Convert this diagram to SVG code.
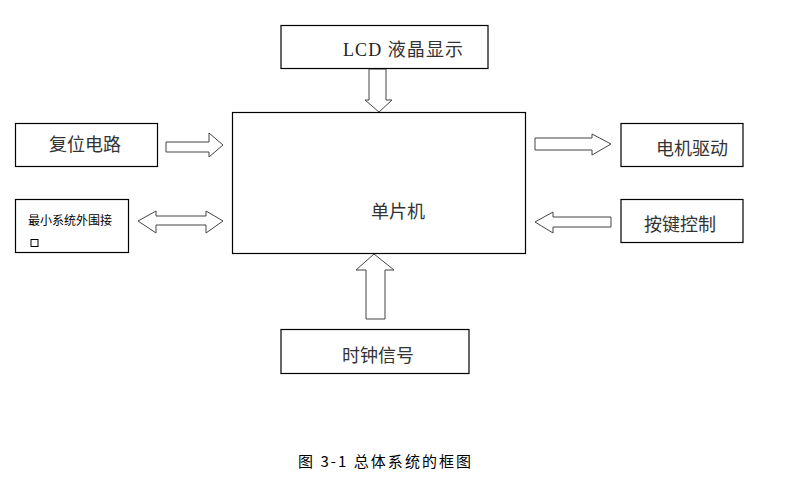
<svg xmlns="http://www.w3.org/2000/svg" width="790" height="502" viewBox="0 0 790 502">
<style>
.box{fill:#fff;stroke:#000;stroke-width:1.2}
.arr{fill:#fff;stroke:#444;stroke-width:1}
.t{font-family:"Noto Sans CJK SC","Liberation Sans",sans-serif;font-size:18px;fill:#333}
.s{font-family:"Liberation Serif","Noto Sans CJK SC",serif;font-size:18px;fill:#222}
</style>
<rect width="790" height="502" fill="#fff"/>
<g id="connectors">
<polygon class="arr" points="369,69 386,69 386,100 392,100 379,112 365,100 369,100"/>
<polygon class="arr" points="166,142 209,142 209,133 223,145 209,157 209,152 166,152"/>
<polygon class="arr" points="138,221 156,211 156,216 206,216 206,211 223,221 206,233 206,225 156,225 156,233"/>
<polygon class="arr" points="535,138 592,138 592,134 611,144 592,155 592,150 535,150"/>
<polygon class="arr" points="535,222 553,212 553,217 611,217 611,227 553,227 553,233"/>
<polygon class="arr" points="374,254 394,270 385,270 385,319 366,319 366,270 356,270"/>
</g>
<g id="mcu">
<rect class="box" x="232.5" y="112.5" width="293" height="141"/>
<text class="t" x="371" y="218">单片机</text>
</g>
<g id="lcd">
<rect class="box" x="281" y="25.5" width="207" height="43"/>
<text class="s" x="343" y="56" textLength="120" lengthAdjust="spacing">LCD <tspan font-family="Noto Sans CJK SC,sans-serif" fill="#333">液晶显示</tspan></text>
</g>
<g id="reset">
<rect class="box" x="15.5" y="123.5" width="142" height="43"/>
<text class="t" x="49" y="151">复位电路</text>
</g>
<g id="minsys">
<rect class="box" x="15.5" y="199.5" width="113" height="53"/>
<text x="28" y="225" font-family="Noto Sans CJK SC,sans-serif" font-size="12" fill="#000">最小系统外围接</text>
<rect x="31" y="239.5" width="7" height="7" fill="none" stroke="#000" stroke-width="1"/>
</g>
<g id="motor">
<rect class="box" x="621" y="123.5" width="122" height="43"/>
<text class="t" x="656" y="155">电机驱动</text>
</g>
<g id="keys">
<rect class="box" x="621" y="199.5" width="122" height="43"/>
<text class="t" x="644" y="231">按键控制</text>
</g>
<g id="clock">
<rect class="box" x="281" y="329.5" width="188" height="44"/>
<text class="t" x="342" y="362">时钟信号</text>
</g>
<text x="298" y="467" font-family="Noto Sans CJK SC,sans-serif" font-size="15" fill="#000" textLength="173" lengthAdjust="spacing">图 3-1 总体系统的框图</text>
</svg>
